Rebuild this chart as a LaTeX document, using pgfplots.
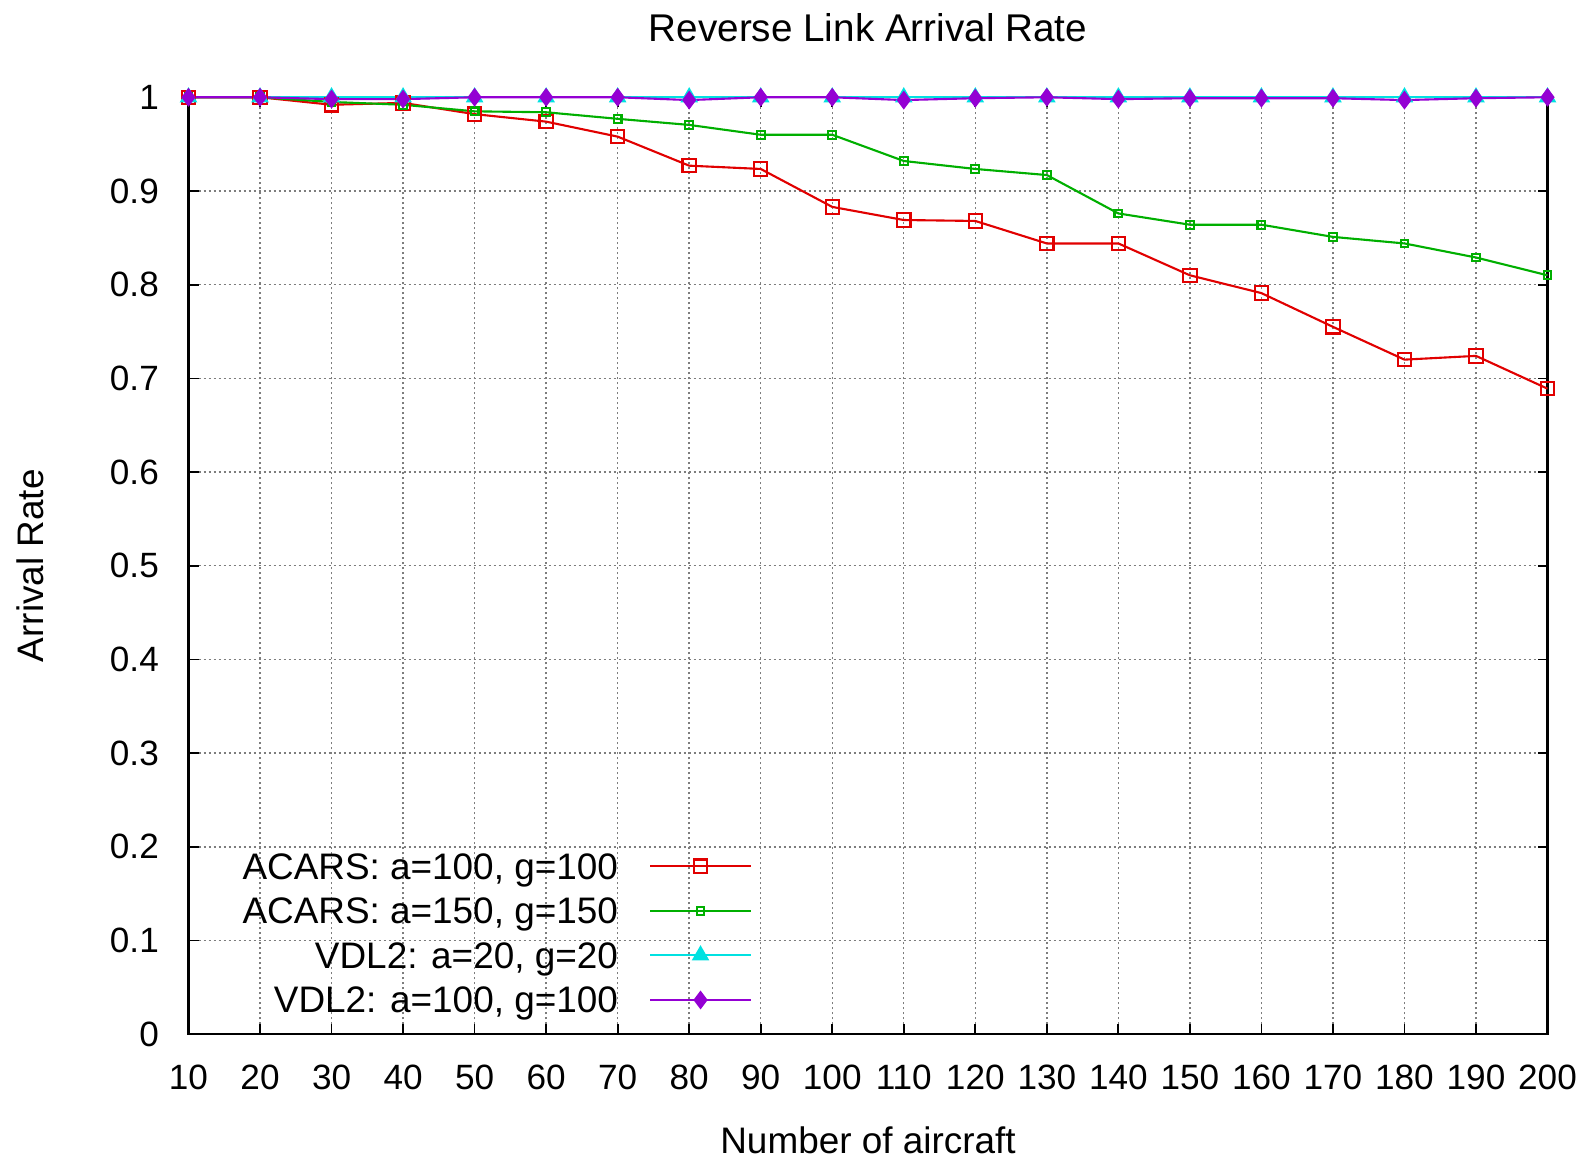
\documentclass[border=0pt]{standalone}
\usepackage{fontspec}
\setmainfont{Liberation Sans}
\usepackage{pgfplots}
\pgfplotsset{compat=1.18}
\usetikzlibrary{calc}
\definecolor{cred}{RGB}{225,0,0}
\definecolor{cgreen}{RGB}{0,175,0}
\definecolor{ccyan}{RGB}{0,225,225}
\definecolor{cpurple}{RGB}{148,0,211}
\definecolor{gridgray}{RGB}{125,125,125}
\begin{document}
\begin{tikzpicture}
\begin{axis}[
  scale only axis,
  width=135.9mm, height=93.7mm,
  xmin=10, xmax=200, ymin=0, ymax=1,
  xtick={10,20,...,200},
  ytick={0,0.1,0.2,0.3,0.4,0.5,0.6,0.7,0.8,0.9,1},
  yticklabels={0,0.1,0.2,0.3,0.4,0.5,0.6,0.7,0.8,0.9,1},
  /pgf/number format/assume math mode=true,
  tick label style={font=\fontsize{10}{12}\selectfont},
  xticklabel style={anchor=base, inner sep=0pt, yshift=-5.53mm},
  yticklabel style={anchor=east, inner sep=0pt, xshift=-2.9mm},
  major tick length=1mm,
  tick style={black, line width=0.5pt},
  axis line style={black, line width=0.6pt},
  grid=major,
  major grid style={gridgray, line width=0.4pt, dash pattern=on 0.2mm off 0.3mm},
  every axis title shift=0pt,
  title={Reverse Link Arrival Rate},
  title style={at={(axis description cs:0.5,1)}, anchor=base, yshift=5.56mm, inner sep=0pt, font=\fontsize{11}{13}\selectfont},
  xlabel={Number of aircraft},
  xlabel style={at={(axis description cs:0.5,0)}, anchor=base, yshift=-11.93mm, inner sep=0pt, font=\fontsize{10.5}{12}\selectfont},
  ylabel={Arrival Rate},
  ylabel style={at={(axis description cs:-0.1068,0.5)}, anchor=base, rotate=0, inner sep=0pt, font=\fontsize{10.5}{12}\selectfont},
  clip=false,
  legend plot pos=right,
  legend cell align=right,
  legend image code/.code={\draw[mark repeat=2,mark phase=2,#1] plot coordinates {(0cm,0cm) (0.505cm,0cm) (1.01cm,0cm)};},
  legend style={draw=none, fill=none, inner sep=0pt, outer sep=0pt,
    at={(axis description cs:0.4147,0.1933)}, anchor=north east,
    font=\fontsize{10.5}{12}\selectfont,
    nodes={inner sep=0pt, text height=2.6mm, text depth=0pt},
    row sep=1.86mm, column sep=3.1mm},
]
\addplot[cred, line width=0.6pt, mark=square, mark size=1.9pt, mark options={solid, line width=0.6pt}] coordinates {
(10,1.0) (20,1.0) (30,0.992) (40,0.994) (50,0.982) (60,0.974) (70,0.958) (80,0.927) (90,0.9235) (100,0.883)
(110,0.869) (120,0.868) (130,0.844) (140,0.844) (150,0.810) (160,0.791) (170,0.755) (180,0.720) (190,0.724) (200,0.689)};
\addlegendentry{ACARS: a=100, g=100}
\addplot[cgreen, line width=0.6pt, mark=square, mark size=1.1pt, mark options={solid, line width=0.6pt}] coordinates {
(10,1.0) (20,1.0) (30,0.995) (40,0.992) (50,0.985) (60,0.984) (70,0.977) (80,0.9705) (90,0.960) (100,0.960)
(110,0.932) (120,0.9235) (130,0.917) (140,0.876) (150,0.864) (160,0.864) (170,0.851) (180,0.844) (190,0.829) (200,0.810)};
\addlegendentry{ACARS: a=150, g=150}
\addplot[ccyan, line width=0.6pt, mark=triangle*, mark size=2.3pt, mark options={solid}] coordinates {
(10,1.0) (20,1.0) (30,1.0) (40,1.0) (50,1.0) (60,1.0) (70,1.0) (80,1.0) (90,1.0) (100,1.0)
(110,1.0) (120,1.0) (130,1.0) (140,1.0) (150,1.0) (160,1.0) (170,1.0) (180,1.0) (190,1.0) (200,1.0)};
\addlegendentry{VDL2: a=20, g=20}
\addplot[cpurple, line width=0.6pt, mark=diamond*, mark size=2.2pt, mark options={solid}] coordinates {
(10,1.0) (20,1.0) (30,0.998) (40,0.998) (50,1.0) (60,1.0) (70,1.0) (80,0.997) (90,1.0) (100,1.0)
(110,0.997) (120,0.999) (130,1.0) (140,0.998) (150,0.999) (160,0.999) (170,0.999) (180,0.997) (190,0.999) (200,1.0)};
\addlegendentry{VDL2: a=100, g=100}
\end{axis}
\path ($(current axis.south west)+(-18.85mm,-12.53mm)$) rectangle ($(current axis.north east)+(4.15mm,9.73mm)$);
\end{tikzpicture}
\end{document}
